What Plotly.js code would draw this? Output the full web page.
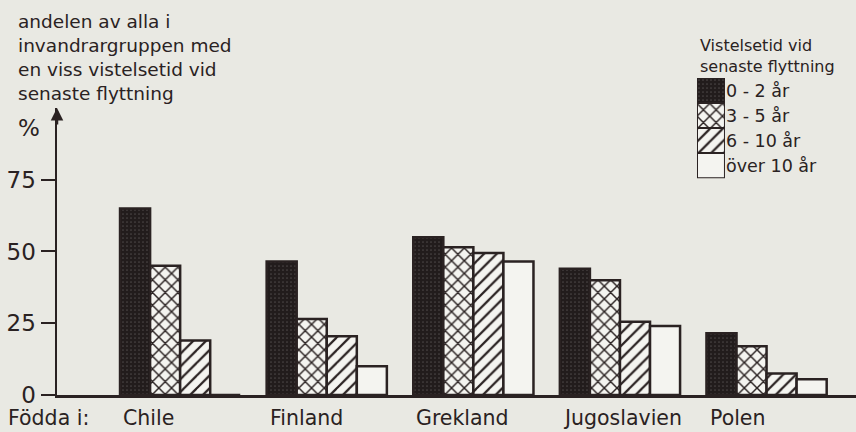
<!DOCTYPE html>
<html>
<head>
<meta charset="utf-8">
<script src="https://cdn.plot.ly/plotly-3.0.1.min.js"></script>
<style>html,body{margin:0;padding:0;background:#e9e9e3;}#chart{width:856px;height:432px;}</style>
</head>
<body>
<div id="chart"></div>
<script>
// Data
const categories = ["Chile", "Finland", "Grekland", "Jugoslavien", "Polen"];
const seriesNames = ["0 - 2 år", "3 - 5 år", "6 - 10 år", "över 10 år"];
const s0_2   = [65, 46.5, 55, 44, 21.5];
const s3_5   = [45, 26.5, 51.5, 40, 17];
const s6_10  = [19, 20.5, 49.5, 25.5, 7.5];
const sOver10 = [0, 10, 46.5, 24, 5.5];
const yTicks = [0, 25, 50, 75];
const yTitleText = "andelen av alla i<br>invandrargruppen med<br>en viss vistelsetid vid<br>senaste flyttning";
const legendTitle = "Vistelsetid vid<br>senaste flyttning";
const bornInLabel = "Födda i:";

const ink = "#2a2222";
const bg = "#e9e9e3";
const font = "DejaVu Sans, sans-serif";

const series = [s0_2, s3_5, s6_10, sOver10];
const patterns = [
  {shape: ".", bgcolor: "#221c1c", fgcolor: "#4a4444", size: 4, solidity: 0.15, fillmode: "replace"},
  {shape: "x", bgcolor: "#f4f4f0", fgcolor: ink, size: 9, solidity: 0.3, fillmode: "replace"},
  {shape: "/", bgcolor: "#f4f4f0", fgcolor: ink, size: 9, solidity: 0.25, fillmode: "replace"},
  {shape: "", bgcolor: "#f4f4f0", fgcolor: ink, size: 9, solidity: 0.2, fillmode: "replace"}
];
const fills = ["#221c1c", "#f4f4f0", "#f4f4f0", "#f4f4f0"];

const traces = series.map((vals, i) => ({
  type: "bar",
  x: categories,
  y: vals,
  name: seriesNames[i],
  marker: {color: fills[i], pattern: patterns[i], line: {color: ink, width: 2.5}},
  showlegend: false,
  hoverinfo: "x+y+name"
}));

// Custom legend keys as a small inset subplot
seriesNames.forEach((nm, i) => {
  traces.push({
    type: "bar",
    orientation: "h",
    x: [1],
    y: [nm],
    width: 1,
    offset: -0.5,
    xaxis: "x2",
    yaxis: "y2",
    marker: {color: fills[i], pattern: patterns[i], line: {color: ink, width: 2}},
    showlegend: false,
    hoverinfo: "y"
  });
});

const annotations = [
  {xref: "paper", yref: "paper", x: -0.0515, y: 0.978, xanchor: "left", yanchor: "top", align: "left",
   text: yTitleText, showarrow: false, font: {family: font, size: 18.5, color: ink}},
  {xref: "paper", yref: "paper", x: -0.051, y: 0.676, xanchor: "left", yanchor: "middle",
   text: "%", showarrow: false, font: {family: font, size: 23, color: ink}},
  {xref: "paper", yref: "paper", x: -0.0635, y: -0.057, xanchor: "left", yanchor: "middle",
   text: bornInLabel, showarrow: false, font: {family: font, size: 20.5, color: ink}},
  {xref: "paper", yref: "paper", x: 0.8025, y: 0.803, xanchor: "left", yanchor: "bottom", align: "left",
   text: legendTitle, showarrow: false, font: {family: font, size: 16, color: ink}},
  {xref: "paper", yref: "y", x: 0, y: 100, ax: 0, ay: 18, text: "", showarrow: true,
   arrowhead: 2, arrowsize: 1, arrowwidth: 2.5, arrowcolor: ink}
];
categories.forEach(c => {
  annotations.push({xref: "x", yref: "paper", x: c, y: -0.057, xanchor: "left", yanchor: "middle",
    xshift: -59, text: c, showarrow: false, font: {family: font, size: 20.5, color: ink}});
});

const layout = {
  width: 856, height: 432,
  margin: {l: 57, r: 0, t: 0, b: 37, pad: 0},
  paper_bgcolor: bg, plot_bgcolor: "rgba(0,0,0,0)",
  font: {family: font, color: ink},
  barmode: "group", bargap: 0.18, bargroupgap: 0,
  showlegend: false,
  xaxis: {
    domain: [0, 1], range: [-0.84, 4.61], showgrid: false, zeroline: false,
    showline: true, linecolor: ink, linewidth: 2.5, showticklabels: false, ticks: "",
    fixedrange: true
  },
  yaxis: {
    domain: [0, 0.7266], range: [0, 100], showgrid: false, zeroline: false,
    showline: true, linecolor: ink, linewidth: 2.5,
    tickvals: yTicks, ticktext: yTicks.map(String), ticks: "outside", ticklen: 14,
    tickwidth: 2, tickcolor: ink, tickfont: {family: font, size: 23, color: ink},
    fixedrange: true
  },
  xaxis2: {
    domain: [0.801, 0.836], range: [0, 1], anchor: "y2", showgrid: false, zeroline: false,
    showline: false, showticklabels: false, ticks: "", fixedrange: true
  },
  yaxis2: {
    domain: [0.549, 0.8025], range: [3.5, -0.5], anchor: "x2", side: "right", type: "category",
    showgrid: false, zeroline: false, showline: false, ticks: "",
    tickfont: {family: font, size: 17.5, color: ink}, fixedrange: true
  },
  annotations: annotations
};

Plotly.newPlot("chart", traces, layout, {displayModeBar: false, staticPlot: true});
</script>
</body>
</html>
